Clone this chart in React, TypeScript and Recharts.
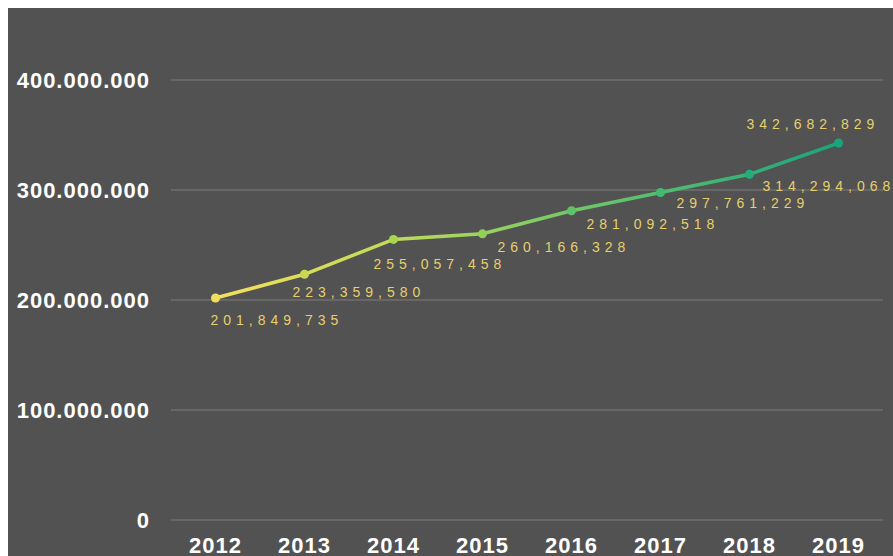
import React from 'react'
import { LineChart, XAxis, YAxis, Line, CartesianGrid, LabelList } from 'recharts'

const years = ['2012', '2013', '2014', '2015', '2016', '2017', '2018', '2019']
const population = [201849735, 223359580, 255057458, 260166328, 281092518, 297761229, 314294068, 342682829]
const yTicks = [0, 100000000, 200000000, 300000000, 400000000]

const dotColors = ['#f4dc5c', '#c9d852', '#aad64e', '#93d055', '#5ec26a', '#44ba70', '#22ae78', '#17a67c']
// where each value label sits relative to its point
const labelOffsets = [
    [-5, 22], [-12, 18], [-20, 25], [15, 13], [15, 13], [16, 11], [13, 12], [-92, -19],
]

const data = years.map((year, i) => ({ year, value: population[i] }))

function ValueDot(props: any) {
    const { cx, cy, index } = props
    return <circle key={'dot-' + index} cx={cx} cy={cy} r={4.5} fill={dotColors[index]} />
}

function ValueLabel(props: any) {
    const { x, y, value, index } = props
    const [dx, dy] = labelOffsets[index]
    return (
        <text
            x={x + dx}
            y={y + dy}
            dy="0.355em"
            textAnchor="start"
            fill="#e6cf6c"
            fontSize={14}
            letterSpacing={5}
            fontFamily="'Liberation Sans', Arial, sans-serif"
        >
            {Number(value).toLocaleString('en-US')}
        </text>
    )
}

function App() {
    return (
        <div style={{ position: 'fixed', top: 8, left: 8, right: 0, bottom: 0, overflow: 'hidden', background: '#525252' }}>
            <LineChart width={885} height={548} data={data} margin={{ top: 72, right: 10, bottom: 0, left: 0 }}>
                <defs>
                    <linearGradient id="lineFill" x1="0" y1="0" x2="1" y2="0">
                        <stop offset="0%" stopColor="#f6df5e" />
                        <stop offset="30%" stopColor="#bcdb58" />
                        <stop offset="60%" stopColor="#6cc66a" />
                        <stop offset="100%" stopColor="#16a67d" />
                    </linearGradient>
                </defs>
                <CartesianGrid vertical={false} stroke="#7c7c7c" strokeWidth={1} />
                <XAxis
                    dataKey="year"
                    axisLine={false}
                    tickLine={false}
                    tickSize={0}
                    tickMargin={17}
                    height={36}
                    padding={{ left: 44.5, right: 44.5 }}
                    tick={{ fill: '#ffffff', fontSize: 22, fontWeight: 'bold', letterSpacing: 1, fontFamily: "'Liberation Sans', Arial, sans-serif" }}
                />
                <YAxis
                    domain={[0, 400000000]}
                    ticks={yTicks}
                    width={163}
                    axisLine={false}
                    tickLine={false}
                    tickSize={0}
                    tickMargin={21}
                    tickFormatter={(v: number) => v.toLocaleString('de-DE')}
                    tick={{ fill: '#ffffff', fontSize: 22, fontWeight: 'bold', letterSpacing: 1, fontFamily: "'Liberation Sans', Arial, sans-serif" }}
                />
                <Line
                    type="linear"
                    dataKey="value"
                    stroke="url(#lineFill)"
                    strokeWidth={3.5}
                    dot={ValueDot}
                    activeDot={false}
                    isAnimationActive={false}
                >
                    <LabelList dataKey="value" content={ValueLabel} />
                </Line>
            </LineChart>
        </div>
    )
}

export default App
